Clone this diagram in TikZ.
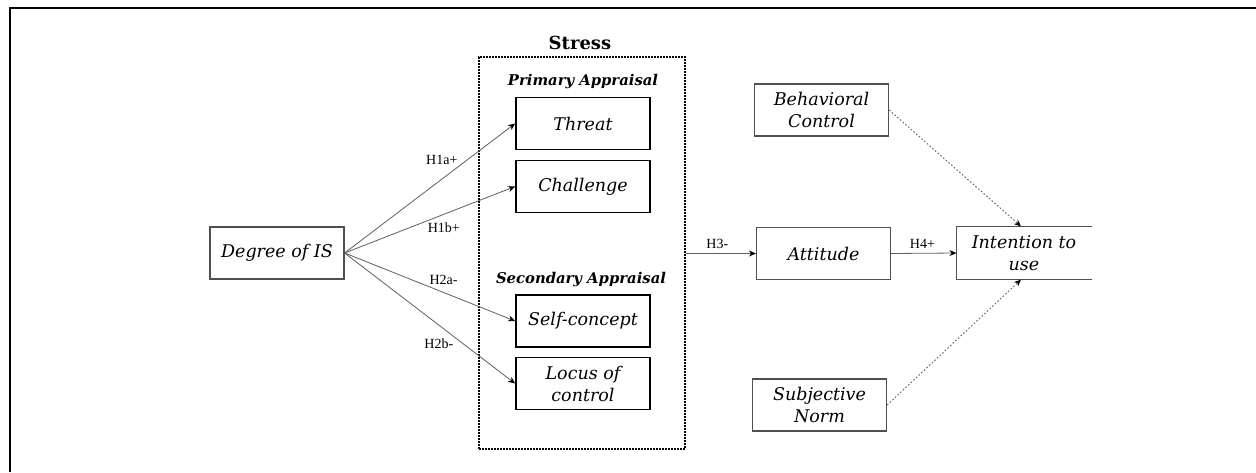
\documentclass[tikz,border=0pt]{standalone}
\usepackage{fontspec}
\setmainfont{DejaVu Serif}
\newfontfamily\hypfont{Liberation Serif}
\definecolor{BoxGray} {RGB}{80,80,80}
\definecolor{LineGray}{RGB}{95,95,95}
\usetikzlibrary{arrows.meta,positioning}

\begin{document}
\begin{tikzpicture}[x=1pt,y=-1pt,every node/.style={font=\fontsize{17.5}{22}\selectfont\itshape},
    plainbox/.style={draw=BoxGray,line width=1.2pt,minimum width=134pt,minimum height=52pt,
          align=center,inner sep=2pt},
    stressbox/.style={plainbox,draw=black,line width=1.8pt},
    hlabel/.style={font=\hypfont\fontsize{14}{16}\selectfont,inner sep=1pt},
    apptitle/.style={font=\fontsize{14.8}{17}\selectfont\bfseries\itshape},
    arr/.style={draw=LineGray,line width=0.8pt,-{Stealth[length=7pt,width=6pt,color=black]}},
    dotarr/.style={arr,line width=0.9pt,dash pattern=on 1.6pt off 2pt}]
  \useasboundingbox (0,0) rectangle (1256,472);
  \draw[line width=2.5pt] (10,472) -- (10,8) -- (1256,8);
  \node[draw,line width=1.6pt,dash pattern=on 1.6pt off 1.4pt,
        minimum width=206pt,minimum height=392pt] (stress) at (582,253) {};
  \node[font=\fontsize{18}{22}\selectfont\bfseries] (stresstitle) at (580,43) {Stress};
  \node[apptitle] (primary) at (583,82) {Primary Appraisal};
  \node[apptitle] (secondary) at (581,280) {Secondary Appraisal};
  \foreach \n/\y/\t in {threat/123.5/Threat, challenge/186.5/Challenge,
      selfc/321/Self-concept, locus/383.5/{Locus of\\control}}{
    \node[stressbox] (\n) at (583,\y) {\t};
  }
  \node[plainbox] (deg) at (277,253) {Degree of IS};
  \foreach \n/\p/\a/\h in {threat/0.67/south east/H1a+, challenge/0.48/north west/H1b+,
      selfc/0.49/south west/H2a-, locus/0.645/north east/H2b-}
    \draw[arr] (deg.east) -- (\n.west) node[hlabel,pos=\p,anchor=\a] (lab\n) {\h};
  \node[plainbox] (behav) at (821.5,110) {Behavioral\\Control};
  \node[plainbox] (att) at (823.5,253.5) {Attitude};
  \node[plainbox] (subj) at (819.5,405) {Subjective\\Norm};
  \node[plainbox,draw=none] (intent) at (1024,253) {Intention to\\use};
  \draw[draw=BoxGray,line width=1.2pt] (intent.north east) -| (intent.south west) -- (intent.south east);
  \draw[arr] (stress.east |- att.west) -- (att.west) node[hlabel,pos=0.45,above=3pt] (labh3) {H3-};
  \draw[arr] (att.east) -- (intent.west) node[hlabel,pos=0.48,above=3pt] (labh4) {H4+};
  \draw[dotarr] (behav.east) -- ([xshift=-3pt]intent.north);
  \draw[dotarr] (subj.east) -- ([xshift=-3pt]intent.south);
\end{tikzpicture}
\end{document}
